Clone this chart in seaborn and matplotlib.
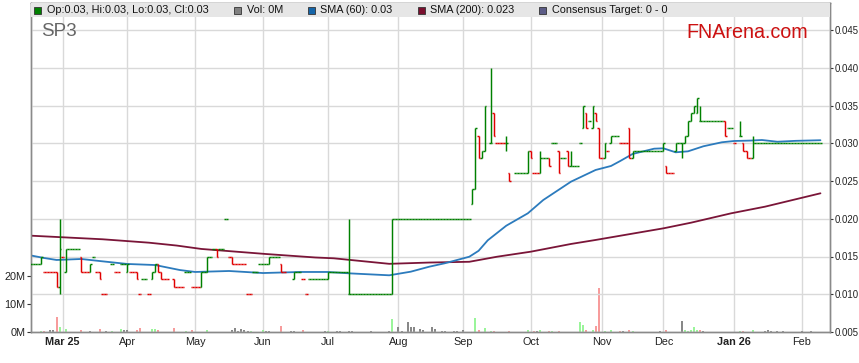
import numpy as np
import pandas as pd
import seaborn as sns
import matplotlib.pyplot as plt
from matplotlib.patches import Rectangle

# --- DATA (SP3 daily bars) ---
# first date of a bar, O/H/L/C, and how many business days in a row it repeats
bar_date = [
    '2025-02-17', '2025-02-20', '2025-02-21', '2025-02-27', '2025-02-28',
    '2025-03-03', '2025-03-04', '2025-03-05', '2025-03-11', '2025-03-12', '2025-03-14', '2025-03-17',
    '2025-03-18', '2025-03-19', '2025-03-20', '2025-03-25', '2025-03-26', '2025-03-28',
    '2025-04-01', '2025-04-02', '2025-04-04', '2025-04-07', '2025-04-08', '2025-04-10', '2025-04-11',
    '2025-04-14', '2025-04-15', '2025-04-16', '2025-04-17', '2025-04-22', '2025-04-23', '2025-04-28',
    '2025-04-30',
    '2025-05-05', '2025-05-06', '2025-05-07', '2025-05-08', '2025-05-09', '2025-05-12', '2025-05-13',
    '2025-05-15', '2025-05-16', '2025-05-19', '2025-05-20', '2025-05-26', '2025-05-28', '2025-05-30',
    '2025-06-04', '2025-06-05', '2025-06-10', '2025-06-11', '2025-06-16', '2025-06-17', '2025-06-19',
    '2025-06-20', '2025-06-23',
    '2025-07-01', '2025-07-02', '2025-07-10', '2025-07-11', '2025-07-30', '2025-07-31',
    '2025-09-04', '2025-09-05', '2025-09-08', '2025-09-09', '2025-09-10', '2025-09-12', '2025-09-15',
    '2025-09-16', '2025-09-19', '2025-09-22', '2025-09-24', '2025-09-30',
    '2025-10-01', '2025-10-02', '2025-10-06', '2025-10-07', '2025-10-09', '2025-10-10', '2025-10-14',
    '2025-10-15', '2025-10-17', '2025-10-20', '2025-10-21', '2025-10-23', '2025-10-24', '2025-10-27',
    '2025-10-28', '2025-10-29', '2025-10-30', '2025-10-31',
    '2025-11-03', '2025-11-04', '2025-11-05', '2025-11-06', '2025-11-07', '2025-11-11', '2025-11-14',
    '2025-11-17', '2025-11-18',
    '2025-12-01', '2025-12-02', '2025-12-03', '2025-12-05', '2025-12-08', '2025-12-09', '2025-12-10',
    '2025-12-11', '2025-12-12', '2025-12-15', '2025-12-16', '2025-12-17', '2025-12-18', '2025-12-29',
    '2025-12-30',
    '2026-01-01', '2026-01-05', '2026-01-06', '2026-01-07', '2026-01-08', '2026-01-09', '2026-01-12',
]
bar_open = [
    .014, .014, .013, .013, .011,
    .015, .013, .016, .015, .013, .013, .015, .013, .013, .010, .014, .013, .014,
    .013, .013, .013, .010, .012, .010, .012, .013, .014, .013, .012, .012, .011, .013, .011,
    .011, .013, .013, .015, .016, .016, .016, .020, .015, .015, .014, .010, .013, .014,
    .014, .015, .014, .013, .012, .013, .012, .010, .012,
    .012, .013, .010, .010, .010, .020,
    .022, .024, .031, .028, .029, .030, .034, .030, .030, .026, .026, .026,
    .029, .026, .026, .028, .028, .030, .029, .028, .029, .027, .027, .030, .032, .034, .033, .032, .034, .032,
    .028, .028, .029, .030, .031, .030, .032, .028, .029,
    .029, .027, .026, .029, .030, .030, .030, .031, .033, .034, .034, .033, .033, .033, .032,
    .030, .031, .030, .029, .028, .028, .030,
]
bar_high = [
    .014, .015, .013, .013, .020,
    .015, .016, .016, .015, .013, .014, .015, .013, .013, .010, .014, .013, .014,
    .014, .013, .013, .010, .012, .010, .013, .014, .014, .013, .012, .012, .011, .013, .011,
    .013, .013, .015, .015, .016, .016, .016, .020, .015, .015, .014, .010, .013, .014,
    .015, .015, .014, .013, .013, .013, .012, .010, .012,
    .013, .013, .020, .010, .020, .020,
    .024, .032, .031, .029, .035, .040, .034, .030, .031, .026, .026, .029,
    .029, .026, .029, .028, .028, .030, .029, .028, .029, .029, .027, .030, .035, .034, .033, .035, .034, .032,
    .028, .030, .029, .031, .031, .030, .032, .029, .029,
    .030, .027, .026, .030, .030, .030, .031, .033, .034, .035, .036, .035, .033, .033, .032,
    .030, .033, .030, .029, .028, .031, .030,
]
bar_low = [
    .014, .014, .013, .011, .010,
    .015, .013, .016, .013, .013, .013, .015, .013, .012, .010, .014, .013, .014,
    .013, .013, .012, .010, .012, .010, .012, .013, .013, .012, .012, .011, .011, .013, .011,
    .011, .013, .013, .015, .016, .015, .016, .020, .015, .014, .014, .010, .013, .014,
    .014, .015, .013, .013, .012, .013, .012, .010, .012,
    .012, .013, .010, .010, .010, .020,
    .022, .024, .028, .028, .029, .030, .031, .030, .029, .025, .026, .026,
    .028, .026, .026, .028, .027, .030, .026, .028, .027, .027, .027, .030, .032, .032, .033, .032, .033, .028,
    .028, .028, .029, .030, .031, .030, .028, .028, .029,
    .029, .026, .026, .029, .030, .028, .030, .031, .033, .034, .034, .033, .033, .031, .032,
    .030, .031, .029, .028, .028, .028, .030,
]
bar_close = [
    .014, .015, .013, .011, .016,
    .015, .016, .016, .013, .013, .014, .015, .013, .012, .010, .014, .013, .014,
    .014, .013, .012, .010, .012, .010, .013, .014, .013, .012, .012, .011, .011, .013, .011,
    .013, .013, .015, .015, .016, .015, .016, .020, .015, .014, .014, .010, .013, .014,
    .015, .015, .013, .013, .013, .013, .012, .010, .012,
    .013, .013, .010, .010, .020, .020,
    .024, .032, .028, .029, .035, .030, .031, .030, .030, .025, .026, .029,
    .028, .026, .028, .028, .027, .030, .026, .028, .027, .027, .027, .030, .035, .032, .033, .035, .033, .028,
    .028, .030, .029, .031, .031, .030, .028, .029, .029,
    .030, .026, .026, .030, .030, .030, .031, .033, .034, .035, .036, .033, .033, .031, .032,
    .030, .031, .029, .028, .028, .030, .030,
]
bar_days = [
    3, 1, 4, 1, 1,
    1, 1, 4, 1, 2, 1, 1, 1, 1, 2, 1, 2, 2,
    1, 2, 1, 1, 2, 1, 1, 1, 1, 1, 2, 1, 3, 2, 3,
    1, 1, 1, 1, 1, 1, 2, 1, 1, 1, 4, 2, 2, 3,
    1, 3, 1, 1, 1, 2, 1, 1, 6,
    1, 6, 1, 13, 1, 25,
    1, 1, 1, 1, 1, 1, 1, 3, 1, 1, 4, 1,
    1, 2, 1, 2, 1, 2, 1, 2, 1, 1, 2, 1, 1, 1, 1, 1, 1, 1,
    1, 1, 1, 1, 2, 3, 1, 1, 9,
    1, 1, 2, 1, 1, 1, 1, 1, 1, 1, 1, 1, 7, 1, 2,
    1, 1, 1, 1, 1, 1, 22,
]

# volume (millions) and move of the day: u = up, d = down, n = unchanged
vol_date = [
    '2025-02-20', '2025-02-21', '2025-02-25', '2025-02-26', '2025-02-27', '2025-02-28', '2025-03-04',
    '2025-03-11', '2025-03-14', '2025-03-19', '2025-03-21', '2025-03-25', '2025-03-28', '2025-03-31',
    '2025-04-01', '2025-04-04', '2025-04-07', '2025-04-11', '2025-04-14', '2025-04-15', '2025-04-22',
    '2025-04-28', '2025-04-30', '2025-05-07', '2025-05-19', '2025-05-20', '2025-05-21', '2025-05-22',
    '2025-05-23', '2025-05-26', '2025-05-27', '2025-06-02', '2025-06-03', '2025-06-04', '2025-06-10',
    '2025-06-13', '2025-06-16', '2025-06-19', '2025-06-30', '2025-07-01', '2025-07-04', '2025-07-07',
    '2025-07-10', '2025-07-11', '2025-07-21', '2025-07-29', '2025-07-30', '2025-08-01', '2025-08-04',
    '2025-08-06', '2025-08-07', '2025-08-08', '2025-08-12', '2025-08-13', '2025-08-18', '2025-08-19',
    '2025-08-21', '2025-08-22', '2025-08-27', '2025-08-28', '2025-09-01', '2025-09-05', '2025-09-08',
    '2025-09-10', '2025-09-12', '2025-09-15', '2025-09-22', '2025-09-30', '2025-10-02', '2025-10-03',
    '2025-10-06', '2025-10-09', '2025-10-10', '2025-10-14', '2025-10-23', '2025-10-24', '2025-10-27',
    '2025-10-29', '2025-10-30', '2025-10-31', '2025-11-04', '2025-11-06', '2025-11-11', '2025-11-12',
    '2025-11-14', '2025-11-17', '2025-11-28', '2025-12-02', '2025-12-09', '2025-12-10', '2025-12-11',
    '2025-12-12', '2025-12-15', '2025-12-16', '2025-12-17', '2025-12-18', '2026-01-05', '2026-01-06',
    '2026-01-09', '2026-01-15', '2026-01-16', '2026-01-19', '2026-01-21', '2026-01-23', '2026-02-02',
    '2026-02-05',
]
vol_m = [
    0.5, 0.5, 0.8, 0.6, 5.2, 1.8, 1.2,
    0.8, 0.5, 1.2, 0.5, 0.5, 1.2, 0.6,
    0.8, 0.8, 1.5, 1.2, 1.1, 0.8, 1.5,
    0.5, 0.8, 0.8, 0.6, 1.4, 0.5, 1.2,
    0.6, 0.5, 0.5, 0.8, 0.5, 0.5, 2.3,
    0.5, 0.5, 0.8, 0.4, 0.4, 0.5, 0.5,
    0.5, 0.5, 0.4, 0.5, 4.8, 1.8, 0.5,
    3.7, 1.8, 1.8, 1.1, 0.8, 1.8, 1.1,
    0.5, 0.5, 0.5, 0.5, 0.8, 5.0, 0.8,
    1.5, 0.5, 0.5, 0.5, 0.8, 0.5, 0.5,
    0.8, 0.5, 0.5, 0.5, 3.7, 2.6, 0.8,
    0.8, 2.3, 15.7, 0.5, 0.8, 0.5, 0.5,
    0.8, 0.5, 0.5, 0.8, 4.0, 0.8, 0.5,
    0.8, 1.8, 0.8, 0.8, 0.5, 0.5, 0.5,
    0.8, 0.5, 0.7, 0.5, 0.5, 0.5, 0.5,
    0.5,
]
vol_move = [
    'u', 'd', 'n', 'n', 'd', 'u', 'u',
    'd', 'n', 'd', 'n', 'u', 'u', 'n',
    'n', 'd', 'd', 'u', 'u', 'd', 'd',
    'u', 'd', 'u', 'n', 'n', 'n', 'n',
    'n', 'n', 'u', 'u', 'n', 'n', 'd',
    'n', 'n', 'd', 'n', 'u', 'n', 'n',
    'n', 'n', 'n', 'n', 'u', 'n', 'n',
    'n', 'n', 'n', 'n', 'n', 'n', 'n',
    'n', 'n', 'n', 'n', 'n', 'u', 'd',
    'u', 'u', 'd', 'd', 'u', 'd', 'n',
    'u', 'd', 'u', 'd', 'u', 'u', 'd',
    'u', 'd', 'd', 'u', 'u', 'd', 'n',
    'd', 'u', 'n', 'd', 'n', 'u', 'u',
    'u', 'u', 'u', 'd', 'n', 'u', 'd',
    'u', 'n', 'n', 'n', 'n', 'n', 'n',
    'n',
]

# moving averages
sma60_date = ['2025-02-17', '2025-02-21', '2025-02-27', '2025-03-11', '2025-03-19', '2025-04-01',
              '2025-04-14', '2025-04-24', '2025-05-01', '2025-05-16', '2025-06-02', '2025-06-18',
              '2025-07-01', '2025-07-10', '2025-07-29', '2025-08-07', '2025-08-15', '2025-08-22',
              '2025-09-03', '2025-09-08', '2025-09-11', '2025-09-19', '2025-09-30', '2025-10-07',
              '2025-10-20', '2025-10-30', '2025-11-06', '2025-11-11', '2025-11-17', '2025-11-26',
              '2025-12-01', '2025-12-05', '2025-12-11', '2025-12-18', '2025-12-26', '2026-01-01',
              '2026-01-08', '2026-01-14', '2026-01-21', '2026-01-29', '2026-02-10']
sma60_val = [.01511, .01480, .01454, .01467, .01440, .01401,
             .01387, .01321, .01295, .01308, .01281, .01295,
             .01295, .01277, .01251, .01299, .01365, .01410,
             .01497, .01575, .01715, .01908, .02072, .02248,
             .02491, .02646, .02699, .02765, .02858, .02928,
             .02933, .02880, .02893, .02960, .03013, .03030,
             .03035, .03043, .03020, .03032, .03040]
sma200_date = ['2025-02-17', '2025-03-20', '2025-04-10', '2025-04-23', '2025-05-05', '2025-06-03',
               '2025-06-25', '2025-07-03', '2025-07-29', '2025-08-15', '2025-09-03', '2025-09-16',
               '2025-10-01', '2025-10-20', '2025-10-30', '2025-12-01', '2025-12-12', '2025-12-31',
               '2026-01-15', '2026-02-10']
sma200_val = [.01775, .01728, .01683, .01645, .01600, .01533,
              .01487, .01476, .01403, .01420, .01430, .01497,
              .01564, .01666, .01719, .01873, .01948, .02072,
              .02160, .02337]

price_ticks = [0.005, 0.010, 0.015, 0.020, 0.025, 0.030, 0.035, 0.040, 0.045]
vol_ticks = [0, 10, 20]
vol_tick_labels = ['0M', '10M', '20M']
month_labels = ['Mar 25', 'Apr', 'May', 'Jun', 'Jul', 'Aug', 'Sep', 'Oct', 'Nov', 'Dec', 'Jan 26', 'Feb']

legend_items = [('Op:0.03, Hi:0.03, Lo:0.03, Cl:0.03', '#008000'), ('Vol: 0M', '#808080'),
                ('SMA (60): 0.03', '#1565a8'), ('SMA (200): 0.023', '#7a0f2e'),
                ('Consensus Target: 0 - 0', '#5c5c86')]

# --- STYLE ---
GREEN, RED = '#008000', '#e00000'
vol_palette = {'u': '#9af59a', 'd': '#f79c9c', 'n': '#888888'}

sns.set_theme(style="white")
plt.rcParams['font.family'] = ['Liberation Sans', 'DejaVu Sans']

ORIGIN = np.datetime64('2025-03-03')


def bpos(dates):
    d = pd.to_datetime(pd.Series(dates)).values.astype('datetime64[D]')
    return np.busday_count(ORIGIN, d)


# expand repeated bars into single days
rows = []
for d, o, h, l, c, n in zip(bar_date, bar_open, bar_high, bar_low, bar_close, bar_days):
    for day in pd.bdate_range(d, periods=n):
        rows.append((day, o, h, l, c))
bars = pd.DataFrame(rows, columns=['date', 'open', 'high', 'low', 'close'])
bars['pos'] = bpos(bars['date'])

# colour: real range -> close vs open, flat bar -> vs previous close (ties keep colour)
colours = []
prev_c, prev_col = None, GREEN
for o, h, l, c in zip(bars['open'], bars['high'], bars['low'], bars['close']):
    if h != l or o != c:
        col = GREEN if c >= o else RED
    elif prev_c is None or c == prev_c:
        col = prev_col
    else:
        col = GREEN if c > prev_c else RED
    colours.append(col)
    prev_c, prev_col = c, col
bars['colour'] = colours

vol = pd.DataFrame({'pos': bpos(vol_date), 'vol': vol_m, 'move': vol_move})

# --- FIGURE ---
W, H = 859, 363
fig = plt.figure(figsize=(W / 100, H / 100), dpi=100)
L, R, T, B = 31, 830, 3, 332
ax_vol = fig.add_axes([L / W, 1 - B / H, (R - L) / W, (B - T) / H])
ax = ax_vol.twinx()

sns.barplot(data=vol, x='pos', y='vol', hue='move', palette=vol_palette, native_scale=True,
            dodge=False, width=0.65, saturation=1, errorbar=None, legend=False, ax=ax_vol,
            linewidth=0)

ax.vlines(bars['pos'], bars['low'], bars['high'], colors=bars['colour'], lw=1.05, zorder=3)
ax.hlines(bars['open'], bars['pos'] - 0.5, bars['pos'], colors=bars['colour'], lw=1.05, zorder=3)
ax.hlines(bars['close'], bars['pos'], bars['pos'] + 0.5, colors=bars['colour'], lw=1.05, zorder=3)

sns.lineplot(x=bpos(sma200_date), y=sma200_val, ax=ax, color='#7a1538', lw=1.3, zorder=2)
sns.lineplot(x=bpos(sma60_date), y=sma60_val, ax=ax, color='#2c7bbd', lw=1.3, zorder=2)

# axes ranges
ax.set_ylim(0.005, 0.005 + (B - T) / 7550)
ax_vol.set_ylim(0, (B - T) / 2.8)
month_pos = bpos(pd.date_range('2025-03-01', '2026-02-28', freq='BMS'))
ax_vol.set_xlim(-10.3, 249.1)

# ticks
ax.set_yticks(price_ticks)
ax.set_yticklabels([f'{t:.3f}' for t in price_ticks])
ax.tick_params(axis='y', right=True, length=2.5, width=0.8, color='#333333', pad=0.5,
               labelsize=6.9, labelcolor='#222222')
ax_vol.set_yticks(vol_ticks)
ax_vol.set_yticklabels(vol_tick_labels)
ax_vol.tick_params(axis='y', left=True, length=3, width=0.8, color='#333333', pad=1,
                   labelsize=7.8, labelcolor='#222222')
ax_vol.set_xticks(month_pos)
ax_vol.set_xticklabels(month_labels)
ax_vol.tick_params(axis='x', length=0, pad=3.5, labelsize=7.8, labelcolor='#222222')
for lab in ax_vol.get_xticklabels():
    if ' ' in lab.get_text():
        lab.set_fontweight('bold')

for a in (ax, ax_vol):
    a.set_xlabel('')
    a.set_ylabel('')
    for s in a.spines.values():
        s.set_color('#8a8a8a')
        s.set_linewidth(1)

ax_vol.grid(axis='x', color='#d9d9d9', lw=1)
ax_vol.grid(axis='y', visible=False)
ax.grid(axis='y', color='#d9d9d9', lw=1)
ax.set_axisbelow(True)

# legend band
band_h = 14 / (B - T)
ax.add_patch(Rectangle((0, 1 - band_h), 1, band_h, transform=ax.transAxes,
                       facecolor='#e6e6e6', edgecolor='none', zorder=6, clip_on=False))

sq_x = [34, 234, 308, 418, 539]
tx_x = [47, 247, 320, 430, 552]
for (label, colour), sx, tx in zip(legend_items, sq_x, tx_x):
    fig.add_artist(Rectangle((sx / W, 1 - 13.5 / H), 7 / W, 7 / H, transform=fig.transFigure,
                             facecolor=colour, edgecolor='#333333', lw=0.6, zorder=10))
    fig.text(tx / W, 1 - 10 / H, label, fontsize=7.8, color='#111111', va='center', ha='left',
             zorder=10)

fig.text(41 / W, 1 - 32 / H, 'SP3', fontsize=13.6, color='#666666', va='center', ha='left')
fig.text(747.5 / W, 1 - 33 / H, 'FNArena.com', fontsize=14.2, color='#cc1111',
         va='center', ha='center')

fig.savefig('out.png', dpi=100)
